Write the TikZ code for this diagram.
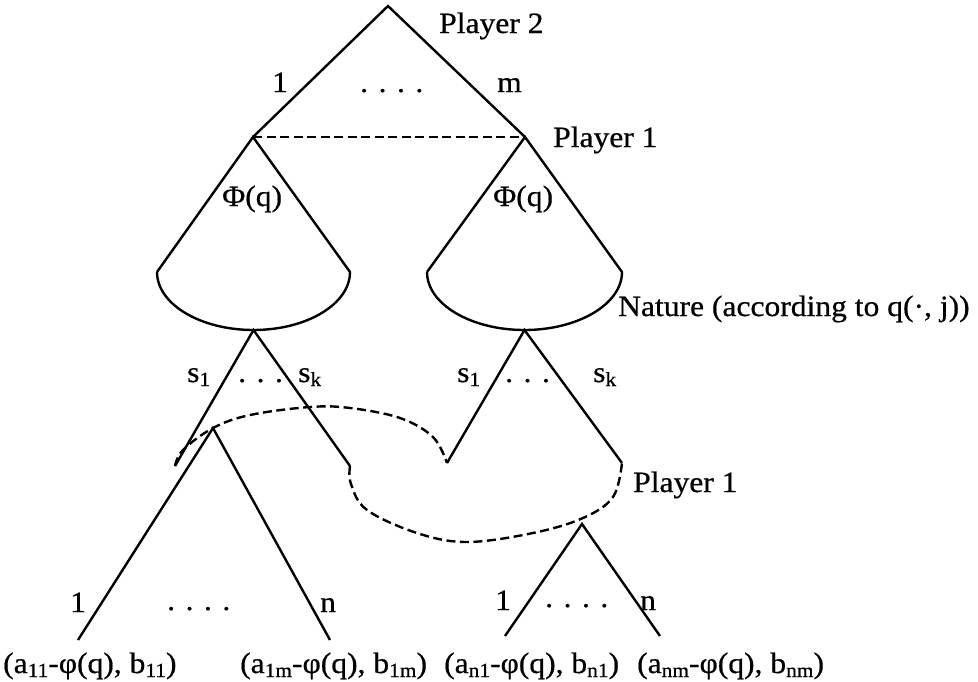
\documentclass[tikz,border=0pt]{standalone}
\usepackage{fontspec}
\setmainfont{Liberation Serif}[FakeStretch=1.07,FakeBold=0.6]
\newcommand\lowsub[1]{\raisebox{-4pt}{\fontsize{20}{20}\selectfont #1}}
\begin{document}
\begin{tikzpicture}[x=1pt,y=-1pt,
  edge/.style={line width=2.4pt},
  infoset/.style={line width=2.4pt,dash pattern=on 9pt off 4.5pt},
  lbl/.style={anchor=base west,inner sep=0pt,font=\fontsize{29.5}{34}\selectfont}]
\useasboundingbox (0,0) rectangle (978,681);
% decision points
\coordinate (root) at (388,6);
\coordinate (p1l) at (253,137);
\coordinate (p1r) at (525,137);
\coordinate (cl1) at (157,272);
\coordinate (cl2) at (350,272);
\coordinate (cr1) at (427,272);
\coordinate (cr2) at (622,272);
\coordinate (natl) at (253.5,330);
\coordinate (natr) at (524.5,330);
\coordinate (ls1) at (175,466);
\coordinate (lsk) at (350,466);
\coordinate (rs1) at (447,463);
\coordinate (rsk) at (622,463);
\coordinate (ba) at (213,428);
\coordinate (ba1) at (78,640);
\coordinate (ban) at (330,640);
\coordinate (sa) at (582,524);
\coordinate (sa1) at (505,636);
\coordinate (san) at (660,636);
% top
\draw[edge] (p1l) -- (root) -- (p1r);
\draw[infoset] (p1l) -- (p1r);
% cones
\draw[edge] (cl1) -- (p1l) -- (cl2) .. controls (350,304) and (306.8,330) .. (natl)
  .. controls (200.2,330) and (157,304) .. (cl1);
\draw[edge] (cr1) -- (p1r) -- (cr2) .. controls (622,304) and (578.3,330) .. (natr)
  .. controls (470.7,330) and (427,304) .. (cr1);
% nature moves
\draw[edge] (ls1) -- (natl) -- (lsk);
\draw[edge] (rs1) -- (natr) -- (rsk);
% player 1 subtrees
\draw[edge] (ba1) -- (ba) -- (ban);
\draw[edge] (sa1) -- (sa) -- (san);
% information sets
\draw[infoset] plot[smooth,tension=0.6] coordinates {(ls1) (183,450) (ba) (250,415) (310,407) (350,408) (400,418) (433,437) (rs1)};
\draw[infoset] plot[smooth,tension=0.6] coordinates {(lsk) (351,484) (367,510) (417,533) (467,542) (533,533) (583,518) (613,497) (rsk)};
% labels
\node[lbl] (tp2) at (439,33) {Player 2};
\node[lbl] (t1a) at (272,92) {1};
\node[lbl] (tda) at (360,92) {. . . .};
\node[lbl] (tm) at (497,92) {m};
\node[lbl] (tp1a) at (553,147) {Player 1};
\node[lbl] (tphil) at (222,206) {Φ(q)};
\node[lbl] (tphir) at (493,206) {Φ(q)};
\node[lbl] (tnat) at (618,316) {Nature (according to q(·, j))};
\node[lbl] (ts1l) at (187,382) {s\lowsub{1}};
\node[lbl] (tdsl) at (238,382) {. . .};
\node[lbl] (tskl) at (298,382) {s\lowsub{k}};
\node[lbl] (ts1r) at (457,382) {s\lowsub{1}};
\node[lbl] (tdsr) at (505,382) {. . .};
\node[lbl] (tskr) at (593,382) {s\lowsub{k}};
\node[lbl] (tp1b) at (633,492) {Player 1};
\node[lbl] (t1b) at (70,612) {1};
\node[lbl] (tdb) at (167,610) {. . . .};
\node[lbl] (tnb) at (320,612) {n};
\node[lbl] (t1c) at (495,610) {1};
\node[lbl] (tdc) at (545,607) {. . . .};
\node[lbl] (tnc) at (640,610) {n};
\node[lbl] (pay1) at (3,673) {(a\lowsub{11}-φ(q), b\lowsub{11})};
\node[lbl] (pay2) at (240,673) {(a\lowsub{1m}-φ(q), b\lowsub{1m})};
\node[lbl] (pay3) at (444,673) {(a\lowsub{n1}-φ(q), b\lowsub{n1})};
\node[lbl] (pay4) at (637,673) {(a\lowsub{nm}-φ(q), b\lowsub{nm})};
\end{tikzpicture}
\end{document}
